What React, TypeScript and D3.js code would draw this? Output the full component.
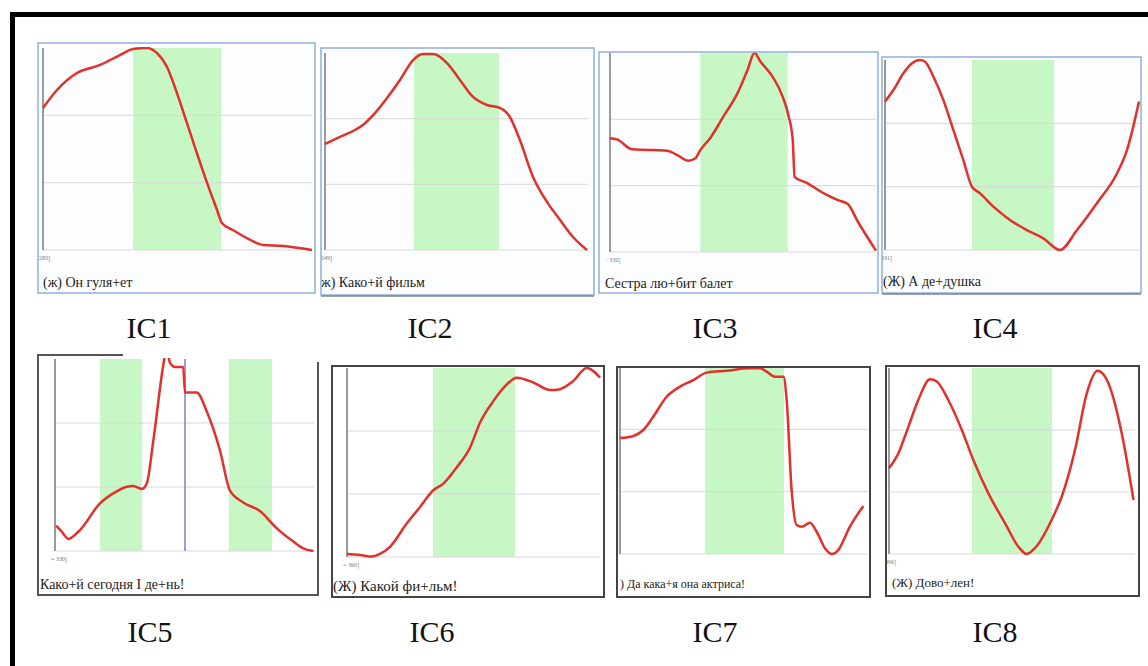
import React, { useEffect, useRef } from 'react';
import * as d3 from 'd3';

// contours: [time % of phrase, pitch % of speaker range]
const ic1 = [[0, 70.3], [5.2, 79.2], [12.6, 87.6], [21.2, 91.6], [28.6, 96.5], [33.5, 99.5], [38.7, 100], [42.4, 97.5], [46.1, 90.6], [49.8, 77.7], [53.5, 62.9], [57.2, 48], [61, 33.2], [64.7, 19.8], [66.5, 13.4], [70.6, 9.9], [75.8, 5.9], [81.8, 2.5], [89.2, 2], [100, 0]];
const ic2 = [[0, 53.8], [5.7, 57.4], [11.4, 60.9], [14.4, 63.5], [18.3, 68.5], [23.6, 77.2], [28.5, 86.3], [33.5, 96.4], [37.3, 99.5], [41.1, 99.5], [46.4, 94.9], [51.3, 86.3], [56.3, 77.7], [61.6, 73.6], [66.5, 72.1], [70.3, 67.5], [74.1, 55.8], [79.1, 37.1], [84.4, 24.4], [89.4, 15.2], [94.3, 6.6], [99.6, 0]];
const ic3 = [[0, 57.1], [2.6, 56.6], [8.3, 51.6], [14, 51.3], [21.5, 50.9], [25.3, 48.7], [29.4, 45.9], [32.1, 47.1], [34, 51.3], [37.7, 57.3], [42.6, 68], [47.9, 79.7], [51.7, 91.5], [54.3, 100], [56.6, 95.6], [61.1, 88.1], [64.9, 78.1], [67.2, 68], [68.7, 56.3], [69.4, 37.8], [74.3, 34.5], [80.4, 29.5], [85.7, 26.1], [89.4, 24.1], [93.2, 15.2], [100, 0.7]];
const ic4 = [[0, 78.1], [3.3, 84.2], [7.2, 93], [10.5, 98.2], [13.7, 100], [15.7, 99.1], [19, 91.2], [22.9, 78.9], [26.8, 63.2], [30.7, 47.4], [34.1, 33.3], [37.3, 29.8], [42.5, 22.8], [49, 15.8], [55.6, 10.5], [62.1, 6.1], [68.6, 0], [75.3, 10.5], [83.1, 24.6], [91, 40.4], [94.9, 52.6], [99.6, 78.1]];
const ic5 = [[0.4, 13.2], [2.6, 10.1], [5.1, 6.3], [9.6, 10.9], [17.3, 24.8], [22.4, 30], [27.6, 33.5], [30.1, 33.9], [33.3, 32.3], [35.3, 35.2], [37.8, 57.3], [41.7, 97.3], [42.9, 106], [44.2, 98.1], [46.2, 95.8], [49.3, 95.8], [50, 82.5], [54.5, 82.5], [58.3, 72.9], [63.5, 52.1], [67.3, 31.4], [72.4, 25.3], [78.8, 20.8], [85.3, 11.8], [91.7, 4.9], [95.5, 1.4], [99.4, 0]];
const ic6 = [[0, 1.6], [5.1, 1.1], [9.8, 0.2], [13, 1.6], [17, 5.4], [23.6, 17.7], [28.9, 26.5], [34.1, 35.3], [38.1, 38.8], [43.4, 47.5], [48.7, 58.1], [52.6, 71.2], [57.9, 82.6], [62.6, 90.5], [67.1, 94.9], [73.7, 92.3], [80.3, 88.3], [84.2, 88.8], [89.5, 93.2], [94.7, 100], [100, 94.9]];
const ic7 = [[0, 62], [5.4, 63.1], [9.4, 66.3], [13.4, 73.4], [18.8, 84.1], [24.2, 89.5], [29.6, 93], [34.9, 97], [43, 98], [52.4, 99.3], [56.5, 99.3], [59.1, 97.5], [62.5, 94.8], [65.9, 94.8], [67.2, 82.4], [69.2, 34.2], [71.2, 15.5], [73.3, 14.6], [76.6, 16.7], [79.3, 11.9], [82.7, 3], [85.4, 0], [88, 2.1], [92.7, 14.6], [98.1, 25.7]];
const ic8 = [[0, 46.1], [3.8, 54.1], [7.9, 68.5], [11.9, 82.8], [16.7, 93.9], [19.4, 92.7], [24.1, 82.8], [29.6, 66.7], [34.3, 50.5], [40.4, 32.6], [47.2, 16.5], [52.6, 3.9], [56, 0], [59.3, 3.1], [66.1, 18.3], [70.2, 30.8], [75.6, 55.9], [80.4, 86.4], [84.8, 98.5], [89.2, 91.8], [94.6, 64.9], [99.4, 29]];

// stressed (nucleus) zones, % of phrase
const centres = [[[33.5, 66.2]], [[33.8, 66.2]], [[34, 66.8]], [[34.1, 66.3]], [[17.3, 33.5], [66.9, 83.5]], [[34, 66.4]], [[34.3, 66.1]], [[33.7, 66.3]]];
const ic5Boundary = [50];

const phrases = ['(ж) Он гуля+ет', 'ж) Како+й фильм', 'Сестра лю+бит балет', '(Ж) А де+душка', 'Како+й сегодня I де+нь!', '(Ж) Какой фи+льм!', ') Да кака+я она актриса!', '(Ж) Дово+лен!'];
const rangeMarks = ['283]', '249]', '· 330]', '331]', '= 330]', '= 360]', '|', '496]'];
const captions = ['IC1', 'IC2', 'IC3', 'IC4', 'IC5', 'IC6', 'IC7', 'IC8'];
const contours = [ic1, ic2, ic3, ic4, ic5, ic6, ic7, ic8];

// screen layout of the screenshots
const layout = [
  { box: [38, 43, 315, 293], plot: [43, 48, 312, 250], lx: 43, ly: 287, fs: 14, edge: '#8fb0d8', cx: 149, cy: 338 },
  { box: [321, 48, 594, 295], plot: [325, 53, 588, 250], lx: 321, ly: 287, fs: 14, edge: '#8fb0d8', cx: 430, cy: 338 },
  { box: [599, 52, 878, 293], plot: [610, 53, 876, 252], lx: 605, ly: 288, fs: 14, edge: '#8fb0d8', cx: 715, cy: 338 },
  { box: [882, 57, 1141, 293], plot: [885, 60, 1140, 250], lx: 883, ly: 286, fs: 14, edge: '#8fb0d8', cx: 995, cy: 338 },
  { box: [38, 355, 318, 595], plot: [55, 359, 315, 551], lx: 40, ly: 589, fs: 14, edge: '#555', cx: 150, cy: 642, topTo: 123, rightFrom: 362 },
  { box: [332, 366, 604, 597], plot: [347, 368, 600, 557], lx: 333, ly: 591, fs: 15, edge: '#444', cx: 432, cy: 642 },
  { box: [617, 367, 870, 597], plot: [620, 367, 868, 554], lx: 620, ly: 588, fs: 12, edge: '#444', cx: 715, cy: 642 },
  { box: [886, 366, 1139, 596], plot: [889, 368, 1135, 554], lx: 892, ly: 587, fs: 13, edge: '#444', cx: 995, cy: 642 },
];

const W = 1148;
const H = 666;
const serif = '"Liberation Serif", "Times New Roman", serif';

export default function App() {
  const ref = useRef<SVGSVGElement>(null);

  useEffect(() => {
    const svg = d3.select(ref.current);
    svg.selectAll('*').remove();

    svg.append('rect').attr('width', W).attr('height', H).attr('fill', '#fff');
    // outer black frame (top + left)
    svg.append('rect').attr('x', 10).attr('y', 12).attr('width', W).attr('height', 5).attr('fill', '#000');
    svg.append('rect').attr('x', 10).attr('y', 12).attr('width', 5).attr('height', H).attr('fill', '#000');

    layout.forEach((p, i) => {
      const [bx0, by0, bx1, by1] = p.box;
      const [px0, py0, px1, py1] = p.plot;
      const x = d3.scaleLinear().domain([0, 100]).range([px0, px1]);
      const y = d3.scaleLinear().domain([0, 100]).range([py1, py0]);
      const g = svg.append('g');

      g.append('rect').attr('x', bx0).attr('y', by0).attr('width', bx1 - bx0).attr('height', by1 - by0)
        .attr('fill', i < 4 ? '#fbfdff' : '#fff');

      g.selectAll('rect.band')
        .data(centres[i])
        .enter().append('rect')
        .attr('class', 'band')
        .attr('x', (d) => x(d[0]))
        .attr('y', py0)
        .attr('width', (d) => x(d[1]) - x(d[0]))
        .attr('height', py1 - py0)
        .attr('fill', '#c8f7c6');

      g.selectAll('line.grid')
        .data([0, 100 / 3, 200 / 3])
        .enter().append('line')
        .attr('class', 'grid')
        .attr('x1', px0).attr('x2', px1)
        .attr('y1', (d) => y(d)).attr('y2', (d) => y(d))
        .attr('stroke', '#d8d8d8')
        .attr('stroke-width', 1);

      g.append('line')
        .attr('x1', px0).attr('x2', px0).attr('y1', py0).attr('y2', py1)
        .attr('stroke', '#9a9a9a').attr('stroke-width', 2);

      if (i === 4) {
        g.selectAll('line.mark')
          .data(ic5Boundary)
          .enter().append('line')
          .attr('x1', (d) => x(d)).attr('x2', (d) => x(d))
          .attr('y1', py0).attr('y2', py1)
          .attr('stroke', '#8585d6').attr('stroke-width', 1.6);
      }

      const clipId = `clip${i}`;
      svg.append('clipPath').attr('id', clipId)
        .append('rect').attr('x', px0 - 2).attr('y', py0 - 1).attr('width', px1 - px0 + 6).attr('height', py1 - py0 + 4);

      const line = d3.line<number[]>()
        .x((d) => x(d[0]))
        .y((d) => y(d[1]))
        .curve(d3.curveMonotoneX);

      g.append('path')
        .datum(contours[i])
        .attr('clip-path', `url(#${clipId})`)
        .attr('d', line)
        .attr('fill', 'none')
        .attr('stroke', '#e2302b')
        .attr('stroke-width', 2.5)
        .attr('stroke-linejoin', 'round');

      g.append('text')
        .attr('x', px0 - 4).attr('y', py1 + 10)
        .style('font-family', serif).style('font-size', '6px')
        .attr('fill', '#777')
        .text(rangeMarks[i]);

      g.append('text')
        .attr('x', p.lx).attr('y', p.ly)
        .style('font-family', serif).style('font-size', `${p.fs}px`)
        .attr('fill', '#222')
        .text(phrases[i]);

      // border
      const edge = g.append('g').attr('fill', 'none').attr('stroke', p.edge)
        .attr('stroke-width', i < 4 ? 1.5 : 2);
      if (p.topTo) {
        edge.append('path').attr('d', `M${p.topTo},${by0}H${bx0}V${by1}H${bx1}V${p.rightFrom}`);
      } else {
        edge.append('rect').attr('x', bx0).attr('y', by0).attr('width', bx1 - bx0).attr('height', by1 - by0);
      }
      if (i === 1 || i === 3) {
        g.append('line').attr('x1', bx0).attr('x2', bx1).attr('y1', by1 + 1).attr('y2', by1 + 1)
          .attr('stroke', '#7a8594').attr('stroke-width', 1.5);
      }

      svg.append('text')
        .attr('x', p.cx).attr('y', p.cy)
        .attr('text-anchor', 'middle')
        .style('font-family', serif).style('font-size', '30px')
        .attr('fill', '#111')
        .text(captions[i]);
    });
  }, []);

  return (
    <svg ref={ref} width={W} height={H}
      style={{ position: 'absolute', left: 0, top: 0, display: 'block' }} />
  );
}
